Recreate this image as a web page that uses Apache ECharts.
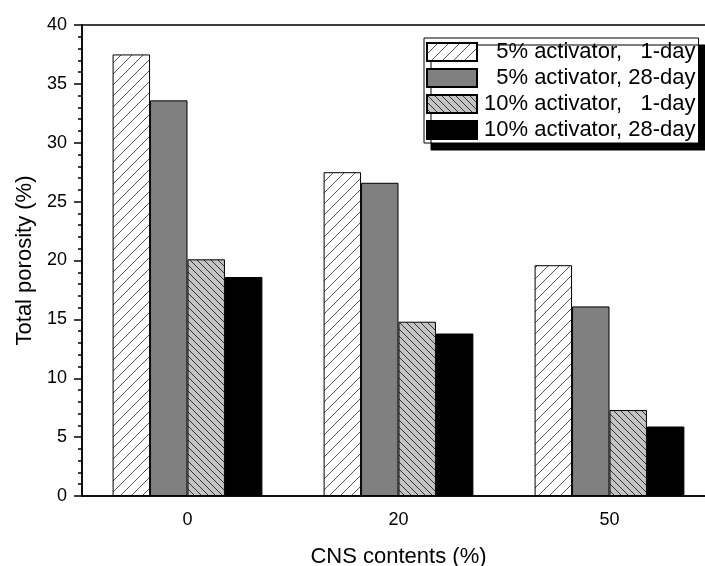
<!DOCTYPE html>
<html>
<head>
<meta charset="utf-8">
<script src="https://cdn.jsdelivr.net/npm/echarts@6/dist/echarts.min.js"></script>
<style>
  html, body { margin: 0; padding: 0; background: #fff; }
  #main { width: 705px; height: 566px; }
</style>
</head>
<body>
<div id="main"></div>
<script>
// data (CNS 0 / 20 / 50)
var categories = ['0', '20', '50'];
var seriesNames = ['  5% activator,   1-day', '  5% activator, 28-day', '10% activator,   1-day', '10% activator, 28-day'];
var act5Day1 = [37.5, 27.5, 19.6];
var act5Day28 = [33.6, 26.6, 16.1];
var act10Day1 = [20.1, 14.8, 7.3];
var act10Day28 = [18.6, 13.8, 5.9];

// hatch fill pattern
function hatch(bg, fg, size, dir) {
  var c = document.createElement('canvas');
  c.width = size; c.height = size;
  var ctx = c.getContext('2d');
  ctx.fillStyle = bg;
  ctx.fillRect(0, 0, size, size);
  ctx.strokeStyle = fg;
  ctx.lineWidth = 1;
  ctx.beginPath();
  if (dir == '/') {
    ctx.moveTo(0, size); ctx.lineTo(size, 0);
    ctx.moveTo(-1, 1); ctx.lineTo(1, -1);
    ctx.moveTo(size - 1, size + 1); ctx.lineTo(size + 1, size - 1);
  } else {
    ctx.moveTo(0, 0); ctx.lineTo(size, size);
    ctx.moveTo(-1, size - 1); ctx.lineTo(1, size + 1);
    ctx.moveTo(size - 1, -1); ctx.lineTo(size + 1, 1);
  }
  ctx.stroke();
  return { image: c, repeat: 'repeat' };
}

var fills = [
  hatch('#ffffff', '#555555', 11, '/'),
  '#808080',
  hatch('#c4c4c4', '#333333', 7, '\\'),
  '#000000'
];
var values = [act5Day1, act5Day28, act10Day1, act10Day28];

var series = [];
for (var i = 0; i < 4; i++) {
  series.push({
    name: seriesNames[i],
    type: 'bar',
    data: values[i],
    barGap: '0%',
    barCategoryGap: '29%',
    itemStyle: { color: fills[i], borderColor: '#000', borderWidth: 1 }
  });
}

var chart = echarts.init(document.getElementById('main'));
chart.setOption({
  animation: false,
  backgroundColor: '#fff',
  textStyle: { fontFamily: 'Liberation Sans, Arial, sans-serif' },
  grid: {
    left: 82, top: 25, width: 633, height: 471,
    outerBoundsMode: 'none', containLabel: false,
    show: true, borderColor: '#000', borderWidth: 1.5
  },
  legend: {
    orient: 'vertical',
    left: 424, top: 38,
    icon: 'rect',
    itemWidth: 50, itemHeight: 18, itemGap: 4,
    padding: [3, 3, 2, 2],
    backgroundColor: '#fff',
    borderColor: '#000', borderWidth: 1,
    shadowColor: '#000', shadowBlur: 0, shadowOffsetX: 7, shadowOffsetY: 7,
    textStyle: { fontSize: 22, color: '#000', padding: [0, 0, 0, 2] },
    data: seriesNames
  },
  xAxis: {
    type: 'category',
    data: categories,
    name: 'CNS contents (%)',
    nameLocation: 'middle',
    nameGap: 50,
    nameTextStyle: { fontSize: 22, color: '#000' },
    axisLine: { lineStyle: { color: '#000', width: 1.5 } },
    axisTick: { alignWithLabel: true, length: 8, lineStyle: { color: '#000', width: 1.5 } },
    axisLabel: { fontSize: 18, color: '#000', margin: 15 }
  },
  yAxis: {
    type: 'value',
    min: 0, max: 40, interval: 5,
    name: 'Total porosity (%)',
    nameLocation: 'middle',
    nameGap: 42,
    nameTextStyle: { fontSize: 22, color: '#000' },
    axisLine: { show: true, lineStyle: { color: '#000', width: 1.5 } },
    axisTick: { show: true, length: 8, lineStyle: { color: '#000', width: 1.5 } },
    minorTick: { show: true, splitNumber: 5, length: 4, lineStyle: { color: '#000', width: 1.5 } },
    axisLabel: { fontSize: 18, color: '#000', margin: 15 },
    splitLine: { show: false }
  },
  series: series
});
</script>
</body>
</html>
